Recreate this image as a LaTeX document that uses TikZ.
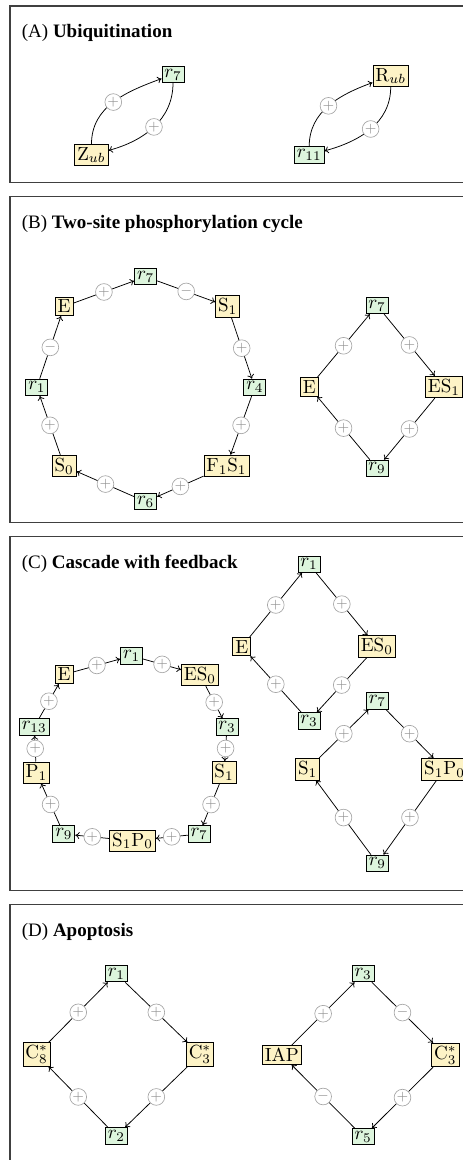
\documentclass[tikz,border=0pt]{standalone}
\usepackage{fontspec}
\newfontfamily\titlefont{Liberation Serif}
\usetikzlibrary{arrows.meta}
\definecolor{ngreen}{HTML}{DDF5DD}
\definecolor{nyellow}{HTML}{FDF3C6}
\begin{document}
\begin{tikzpicture}[x=0.5263pt,y=-0.5263pt,
  rx/.style={draw=black,fill=ngreen,line width=0.45pt,inner xsep=1.3pt,inner ysep=1.4pt,font=\fontsize{10}{12}\selectfont},
  sp/.style={draw=black,fill=nyellow,line width=0.45pt,inner xsep=1.3pt,inner ysep=1.4pt,font=\fontsize{10}{12}\selectfont},
  sgn/.style={circle,draw=gray!70,fill=white,line width=0.35pt,minimum size=8.8pt,inner sep=0pt,text=gray!85,font=\scriptsize},
  ed/.style={-{To[length=2.2pt,width=3.6pt]},line width=0.4pt,black},
  frame/.style={draw=black!75,line width=0.6pt},
  ttl/.style={anchor=base west,inner sep=0pt,font=\titlefont\fontsize{10}{12}\selectfont}]
\useasboundingbox (0,0) rectangle (462,1160);
% frames
\draw[frame] (463,6) -- (10,6) -- (10,182.5) -- (463,182.5);
\draw[frame] (463,196.7) -- (10,196.7) -- (10,522.7) -- (463,522.7);
\draw[frame] (463,536.7) -- (10,536.7) -- (10,890.5) -- (463,890.5);
\draw[frame] (463,904.7) -- (10,904.7) -- (10,1163);
% titles
\node[ttl] (tA) at (21.5,38) {(A) \textbf{Ubiquitination}};
\node[ttl] (tB) at (21.5,228.7) {(B) \textbf{Two-site phosphorylation cycle}};
\node[ttl] (tC) at (21.5,568.7) {(C) \textbf{Cascade with feedback}};
\node[ttl] (tD) at (21.5,936.7) {(D) \textbf{Apoptosis}};
% ---- A
\node[rx] (a7) at (173,74.5) {$r_7$};
\node[sp] (aZ) at (91.5,155) {$\mathrm{Z}_{ub}$};
\draw[ed] (aZ) to[out=90,in=200] node[sgn] (a1) {$+$} (a7);
\draw[ed] (a7) to[out=-90,in=15] node[sgn] (a2) {$+$} (aZ);
\node[sp] (aR) at (390.7,76) {$\mathrm{R}_{ub}$};
\node[rx] (a11) at (309.2,155) {$r_{11}$};
\draw[ed] (a11) to[out=90,in=200] node[sgn] (a3) {$+$} (aR);
\draw[ed] (aR) to[out=-90,in=15] node[sgn] (a4) {$+$} (a11);
% ---- B left
\node[sp] (bE) at (64.2,306.5) {$\mathrm{E}$};
\node[rx] (b7) at (145.7,276.7) {$r_7$};
\node[sp] (bS1) at (227.7,306.5) {$\mathrm{S}_1$};
\node[rx] (b1) at (36.8,387.3) {$r_1$};
\node[rx] (b4) at (254.8,387.3) {$r_4$};
\node[sp] (bS0) at (64.2,466) {$\mathrm{S}_0$};
\node[sp] (bF) at (226.5,466) {$\mathrm{F}_1\mathrm{S}_1$};
\node[rx] (b6) at (145.7,501.7) {$r_6$};
\draw[ed] (bE) -- node[sgn] (bp1) {$+$} (b7);
\draw[ed] (b7) -- node[sgn] (bp2) {$-$} (bS1);
\draw[ed] (bS1) -- node[sgn] (bp3) {$+$} (b4);
\draw[ed] (b4) -- node[sgn] (bp4) {$+$} (bF);
\draw[ed] (bF) -- node[sgn] (bp5) {$+$} (b6);
\draw[ed] (b6) -- node[sgn] (bp6) {$+$} (bS0);
\draw[ed] (bS0) -- node[sgn] (bp7) {$+$} (b1);
\draw[ed] (b1) -- node[sgn] (bp8) {$-$} (bE);
% ---- B right
\node[rx] (br7) at (377,305.5) {$r_7$};
\node[sp] (brE) at (309.3,387) {$\mathrm{E}$};
\node[sp] (brES) at (444,387) {$\mathrm{ES}_1$};
\node[rx] (br9) at (377,468.3) {$r_9$};
\draw[ed] (brE) -- node[sgn] (brp1) {$+$} (br7);
\draw[ed] (br7) -- node[sgn] (brp2) {$+$} (brES);
\draw[ed] (brES) -- node[sgn] (brp3) {$+$} (br9);
\draw[ed] (br9) -- node[sgn] (brp4) {$+$} (brE);
% ---- C left
\node[rx] (c1) at (131.7,655.8) {$r_1$};
\node[sp] (cE) at (64.2,674.5) {$\mathrm{E}$};
\node[sp] (cES) at (200,675) {$\mathrm{ES}_0$};
\node[rx] (c13) at (34.2,727) {$r_{13}$};
\node[rx] (c3) at (227,727) {$r_3$};
\node[sp] (cP) at (36.3,772.5) {$\mathrm{P}_1$};
\node[sp] (cS) at (224,772.5) {$\mathrm{S}_1$};
\node[rx] (c9) at (63.8,834) {$r_9$};
\node[rx] (c7) at (199.2,834) {$r_7$};
\node[sp] (cSP) at (132.5,840.8) {$\mathrm{S}_1\mathrm{P}_0$};
\draw[ed] (cE) -- node[sgn] (cp1) {$+$} (c1);
\draw[ed] (c1) -- node[sgn] (cp2) {$+$} (cES);
\draw[ed] (cES) -- node[sgn] (cp3) {$+$} (c3);
\draw[ed] (c3) -- node[sgn] (cp4) {$+$} (cS);
\draw[ed] (cS) -- node[sgn] (cp5) {$+$} (c7);
\draw[ed] (c7) -- node[sgn] (cp6) {$+$} (cSP);
\draw[ed] (cSP) -- node[sgn] (cp7) {$+$} (c9);
\draw[ed] (c9) -- node[sgn] (cp8) {$+$} (cP);
\draw[ed] (cP) -- node[sgn] (cp9) {$+$} (c13);
\draw[ed] (c13) -- node[sgn] (cp10) {$+$} (cE);
% ---- C right top
\node[rx] (d1) at (309,564.2) {$r_1$};
\node[sp] (dE) at (241.8,646.7) {$\mathrm{E}$};
\node[sp] (dES) at (376.8,646.7) {$\mathrm{ES}_0$};
\node[rx] (d3) at (309,720.8) {$r_3$};
\draw[ed] (dE) -- node[sgn] (dp1) {$+$} (d1);
\draw[ed] (d1) -- node[sgn] (dp2) {$+$} (dES);
\draw[ed] (dES) -- node[sgn] (dp3) {$+$} (d3);
\draw[ed] (d3) -- node[sgn] (dp4) {$+$} (dE);
% ---- C right bottom
\node[rx] (e7) at (377.3,700.8) {$r_7$};
\node[sp] (eS) at (307.7,769.2) {$\mathrm{S}_1$};
\node[sp] (eSP) at (444.5,769.2) {$\mathrm{S}_1\mathrm{P}_0$};
\node[rx] (e9) at (377.3,863.3) {$r_9$};
\draw[ed] (eS) -- node[sgn] (ep1) {$+$} (e7);
\draw[ed] (e7) -- node[sgn] (ep2) {$+$} (eSP);
\draw[ed] (eSP) -- node[sgn] (ep3) {$+$} (e9);
\draw[ed] (e9) -- node[sgn] (ep4) {$+$} (eS);
% ---- D left
\node[rx] (f1) at (116.3,973.7) {$r_1$};
\node[sp] (fC8) at (36.7,1054.5) {$\mathrm{C}^*_8$};
\node[sp] (fC3) at (200,1054.5) {$\mathrm{C}^*_3$};
\node[rx] (f2) at (116.3,1135.8) {$r_2$};
\draw[ed] (fC8) -- node[sgn] (fp1) {$+$} (f1);
\draw[ed] (f1) -- node[sgn] (fp2) {$+$} (fC3);
\draw[ed] (fC3) -- node[sgn] (fp3) {$+$} (f2);
\draw[ed] (f2) -- node[sgn] (fp4) {$+$} (fC8);
% ---- D right
\node[rx] (g3) at (363.2,973.7) {$r_3$};
\node[sp] (gI) at (281.8,1055) {$\mathrm{IAP}$};
\node[sp] (gC) at (445.3,1055) {$\mathrm{C}^*_3$};
\node[rx] (g5) at (363.2,1136.7) {$r_5$};
\draw[ed] (gI) -- node[sgn] (gp1) {$+$} (g3);
\draw[ed] (g3) -- node[sgn] (gp2) {$-$} (gC);
\draw[ed] (gC) -- node[sgn] (gp3) {$+$} (g5);
\draw[ed] (g5) -- node[sgn] (gp4) {$-$} (gI);
\end{tikzpicture}
\end{document}
